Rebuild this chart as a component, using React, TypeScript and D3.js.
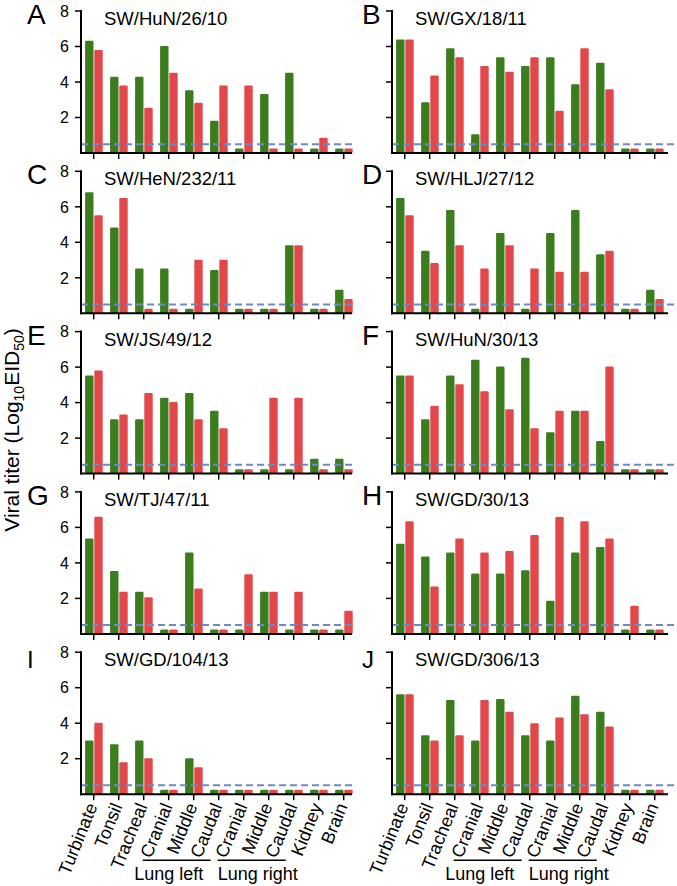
import React from 'react';
import * as d3 from 'd3';

const categories = ['Turbinate', 'Tonsil', 'Tracheal', 'Cranial', 'Middle', 'Caudal', 'Cranial', 'Middle', 'Caudal', 'Kidney', 'Brain'];
const panelLetters = ['A', 'B', 'C', 'D', 'E', 'F', 'G', 'H', 'I', 'J'];
const strainNames = ['SW/HuN/26/10', 'SW/GX/18/11', 'SW/HeN/232/11', 'SW/HLJ/27/12', 'SW/JS/49/12', 'SW/HuN/30/13', 'SW/TJ/47/11', 'SW/GD/30/13', 'SW/GD/104/13', 'SW/GD/306/13'];
const yTicks = [2, 4, 6, 8];
const detectionLimit = 0.5;
const lungGroups = [
  { label: 'Lung left', from: 3, to: 5 },
  { label: 'Lung right', from: 6, to: 8 },
];

const greenValues = [
  [6.33, 4.3, 4.3, 6.03, 3.53, 1.82, 0.25, 3.32, 4.52, 0.25, 0.25],
  [6.4, 2.86, 5.9, 1.05, 5.39, 4.9, 5.39, 3.87, 5.09, 0.25, 0.25],
  [6.82, 4.83, 2.53, 2.53, 0.25, 2.44, 0.25, 0.25, 3.84, 0.25, 1.32],
  [6.5, 3.52, 5.82, 0.25, 4.53, 0.25, 4.53, 5.82, 3.33, 0.25, 1.32],
  [5.53, 3.06, 3.06, 4.28, 4.54, 3.54, 0.25, 0.25, 0.25, 0.84, 0.84],
  [5.53, 3.06, 5.53, 6.42, 6.03, 6.52, 2.33, 3.54, 1.84, 0.25, 0.25],
  [5.38, 3.55, 2.37, 0.25, 4.58, 0.25, 0.25, 2.37, 0.25, 0.25, 0.25],
  [5.08, 4.36, 4.58, 3.4, 3.4, 3.59, 1.87, 4.58, 4.9, 0.25, 0.25],
  [3.02, 2.82, 3.02, 0.25, 2.03, 0.25, 0.25, 0.25, 0.25, 0.25, 0.25],
  [5.63, 3.32, 5.31, 3.02, 5.37, 3.32, 3.02, 5.54, 4.64, 0.25, 0.25],
];
const redValues = [
  [5.8, 3.8, 2.55, 4.52, 2.83, 3.8, 3.8, 0.25, 0.25, 0.86, 0.25],
  [6.4, 4.36, 5.39, 4.9, 4.58, 5.39, 2.38, 5.9, 3.59, 0.25, 0.25],
  [5.52, 6.5, 0.25, 0.25, 3.01, 3.01, 0.25, 0.25, 3.84, 0.25, 0.81],
  [5.52, 2.83, 3.84, 2.53, 3.84, 2.53, 2.34, 2.34, 3.52, 0.25, 0.81],
  [5.81, 3.33, 4.54, 4.04, 3.06, 2.55, 0.25, 4.28, 4.28, 0.25, 0.25],
  [5.53, 3.82, 5.03, 4.64, 3.63, 2.55, 3.54, 3.54, 6.03, 0.25, 0.25],
  [6.6, 2.37, 2.06, 0.25, 2.56, 0.25, 3.36, 2.37, 2.37, 0.25, 1.3],
  [6.35, 2.67, 5.38, 4.58, 4.67, 5.57, 6.58, 6.35, 5.38, 1.59, 0.25],
  [4.03, 1.8, 2.03, 0.25, 1.52, 0.25, 0.25, 0.25, 0.25, 0.25, 0.25],
  [5.63, 3.02, 3.32, 5.31, 4.64, 4.0, 4.32, 4.51, 3.81, 0.25, 0.25],
];

const GREEN = '#3b7d1d';
const RED = '#e2474a';
const DASH = '#6a8bc8';
const FONT = 'Liberation Sans, Arial, Helvetica, sans-serif';

const W = 677;
const H = 886;
const colAxisX = [81, 392];
const colEndX = [352, 668];
const firstBaseline = 153;
const rowStep = 160.3;
const plotHeight = 142;
const lungTextShift = [-8, 6];

function Panel({ idx }: { idx: number }) {
  const col = idx % 2;
  const row = Math.floor(idx / 2);
  const axisX = colAxisX[col];
  const baseline = firstBaseline + row * rowStep;
  const x = d3.scaleBand<number>().domain(d3.range(categories.length)).range([axisX + 0.2, axisX + 0.2 + 25 * categories.length]).paddingInner(0).paddingOuter(0);
  const y = d3.scaleLinear().domain([0, 8]).range([baseline, baseline - plotHeight]);
  const bw = x.bandwidth();
  const barW = 8.4;
  const greens = greenValues[idx];
  const reds = redValues[idx];
  const isBottom = row === 4;
  const dashEnd = col === 0 ? 352 : 676;
  return (
    <g>
      {greens.map((v, i) => {
        const c = (x(i) as number) + bw / 2;
        return <rect key={'g' + i} x={c - 8.6} y={y(v)} width={barW} height={y(0) - y(v)} fill={GREEN} rx={1.2} />;
      })}
      {reds.map((v, i) => {
        const c = (x(i) as number) + bw / 2;
        return <rect key={'r' + i} x={c + 0.6} y={y(v)} width={barW} height={y(0) - y(v)} fill={RED} rx={1.2} />;
      })}
      <line x1={axisX} x2={dashEnd} y1={y(detectionLimit)} y2={y(detectionLimit)} stroke={DASH} strokeWidth={2} strokeDasharray="7,4" />
      <line x1={axisX} x2={axisX} y1={y(8) - 1} y2={baseline + 1} stroke="#000" strokeWidth={2} />
      <line x1={axisX - 1} x2={colEndX[col]} y1={baseline} y2={baseline} stroke="#000" strokeWidth={2} />
      {yTicks.map((t) => (
        <g key={'yt' + t}>
          <line x1={axisX - 6} x2={axisX} y1={y(t)} y2={y(t)} stroke="#000" strokeWidth={1.5} />
          {col === 0 && (
            <text x={axisX - 12} y={y(t)} dy="0.36em" textAnchor="end" fontSize={16} fontFamily={FONT} fill="#000">{t}</text>
          )}
        </g>
      ))}
      {categories.map((c, i) => {
        const cx = (x(i) as number) + bw / 2;
        return <line key={'xt' + i} x1={cx} x2={cx} y1={baseline} y2={baseline + 6} stroke="#000" strokeWidth={1.5} />;
      })}
      <text x={col === 0 ? 27 : 362} y={y(8) + (isBottom ? 16 : 13)} fontSize={isBottom ? 24 : 28} fontFamily={FONT} fill="#000">{panelLetters[idx]}</text>
      <text x={col === 0 ? 104 : 415} y={y(8) + 14} fontSize={18.5} fontFamily={FONT} fill="#000">{strainNames[idx]}</text>
      {isBottom && categories.map((c, i) => {
        const cx = (x(i) as number) + bw / 2;
        return (
          <text key={'xl' + i} transform={`translate(${cx + 4},${baseline + 12}) rotate(-68)`} textAnchor="end" fontSize={18} fontFamily={FONT} fill="#000">{c}</text>
        );
      })}
      {isBottom && lungGroups.map((g, gi) => {
        const x1 = (x(g.from) as number) + bw / 2 - 26;
        const x2 = (x(g.to) as number) + bw / 2 - 8;
        return (
          <g key={g.label}>
            <line x1={x1} x2={x2} y1={baseline + 66} y2={baseline + 66} stroke="#000" strokeWidth={1.5} />
            <text x={(x1 + x2) / 2 + lungTextShift[gi]} y={baseline + 86} textAnchor="middle" fontSize={18} fontFamily={FONT} fill="#000">{g.label}</text>
          </g>
        );
      })}
    </g>
  );
}

export default function App() {
  return (
    <svg width={W} height={H} viewBox={`0 0 ${W} ${H}`} style={{ position: 'absolute', left: 0, top: 0, background: '#fff' }}>
      <rect x={0} y={0} width={W} height={H} fill="#fff" />
      {panelLetters.map((_, i) => <Panel key={i} idx={i} />)}
      <text transform="translate(19,430) rotate(-90)" textAnchor="middle" fontSize={21} fontFamily={FONT} fill="#000">
        Viral titer (Log<tspan fontSize={14} dy={5}>10</tspan><tspan dy={-5}>EID</tspan><tspan fontSize={14} dy={5}>50</tspan><tspan dy={-5}>)</tspan>
      </text>
    </svg>
  );
}
